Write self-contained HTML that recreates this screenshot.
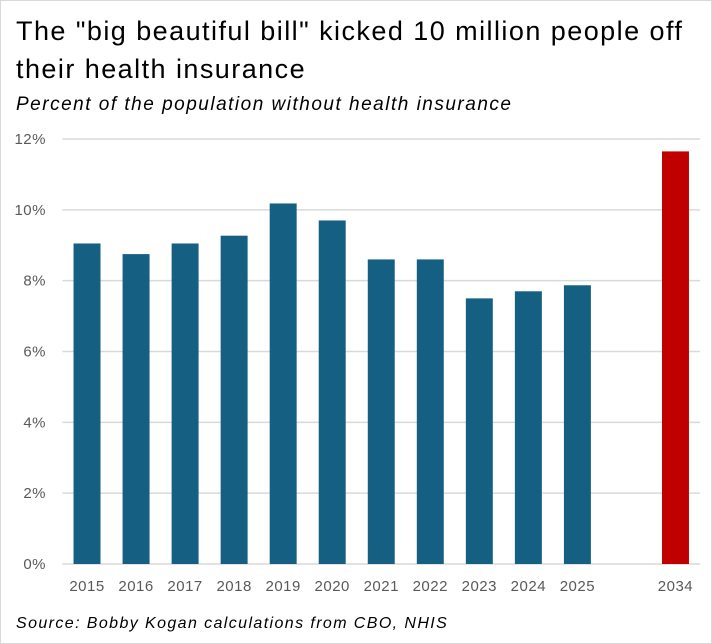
<!DOCTYPE html>
<html><head><meta charset="utf-8"><style>
body{margin:0;background:#fff;font-family:"Liberation Sans",Arial,sans-serif;}
#wrap{position:relative;width:710px;height:642px;border:1px solid #d9d9d9;overflow:hidden;}
.t{position:absolute;left:15px;color:#000;white-space:nowrap;}
</style></head><body>
<div id="wrap">
<div class="t" style="top:11px;font-size:27px;line-height:38px;letter-spacing:1.45px;">The "big beautiful bill" kicked 10 million people off<br>their health insurance</div>
<div class="t" style="top:93px;font-size:19px;font-style:italic;letter-spacing:1.5px;">Percent of the population without health insurance</div>
<svg id="chart" width="712" height="644" style="position:absolute;left:-1px;top:-1px"></svg>
<div class="t" style="top:614px;font-size:16px;font-style:italic;letter-spacing:1.4px;">Source: Bobby Kogan calculations from CBO, NHIS</div>
</div>
<script>
const categories=['2015','2016','2017','2018','2019','2020','2021','2022','2023','2024','2025','','2034'];
const values=[9.05,8.75,9.05,9.27,10.18,9.7,8.6,8.6,7.5,7.7,7.87,null,11.65];
const yTicks=[0,2,4,6,8,10,12];
const NS='http://www.w3.org/2000/svg';
const svg=document.getElementById('chart');
const left=62.5,right=700,y0=564,y12=139;
const step=(right-left)/categories.length;
const x=i=>left+step*(i+0.5);
const y=v=>y0-(v/12)*(y0-y12);
function mk(t,a){const e=document.createElementNS(NS,t);for(const k in a)e.setAttribute(k,a[k]);svg.appendChild(e);return e;}
yTicks.forEach(v=>{
 const l=mk('line',{x1:left,x2:right,y1:y(v),y2:y(v),stroke:'#d9d9d9','stroke-width':1.5});
 
 
 const t=mk('text',{x:46,y:y(v)+5,'text-anchor':'end','font-size':15,fill:'#595959','font-family':'Liberation Sans, sans-serif','letter-spacing':0.5});
 t.textContent=v+'%';
 
 
});
const bw=step*0.55;
categories.forEach((c,i)=>{
 if(values[i]!=null){
  const r=mk('rect',{x:x(i)-bw/2,y:y(values[i]),width:bw,height:y0-y(values[i]),fill:c==='2034'?'#c00000':'#156082'});
  
  
 }
 if(c){
  const t=mk('text',{x:x(i),y:591,'text-anchor':'middle','font-size':15,fill:'#595959','font-family':'Liberation Sans, sans-serif','letter-spacing':0.5});
  t.textContent=c;
  
  
 }
});
</script>
</body></html>
